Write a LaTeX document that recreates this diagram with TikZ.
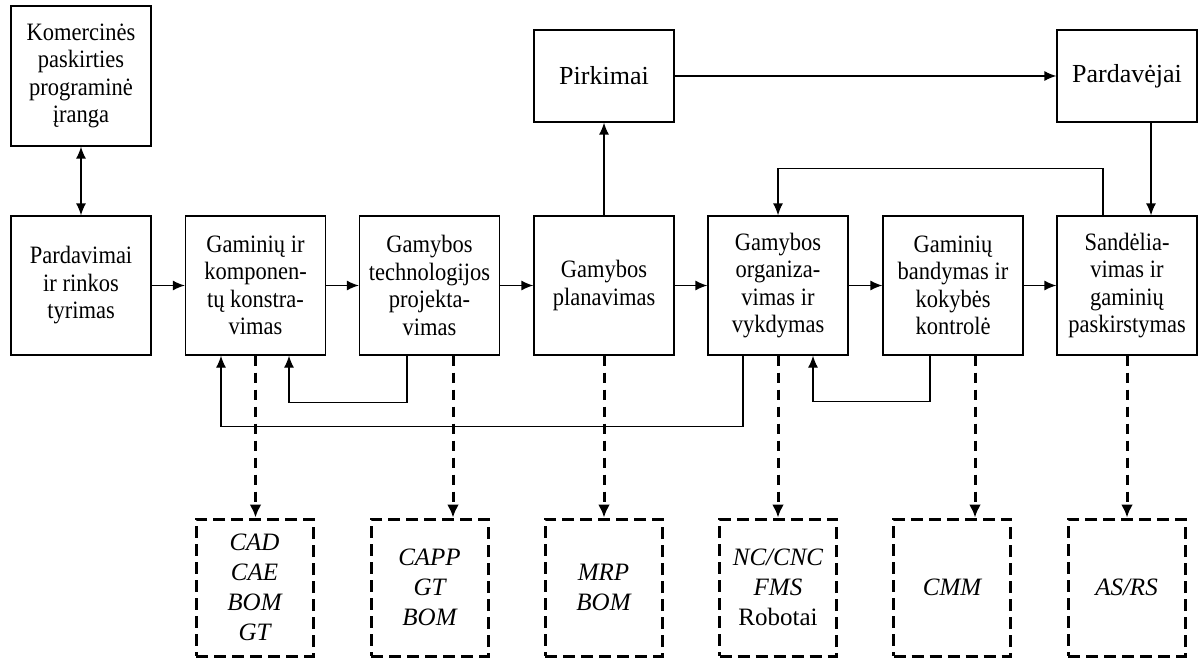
\documentclass[tikz,border=0pt]{standalone}
\usepackage{fontspec}
\setmainfont{Liberation Serif}
\newfontfamily\boxfont{Liberation Serif}[FakeStretch=0.9]
\usetikzlibrary{arrows.meta}
\begin{document}
\begin{tikzpicture}[x=1pt,y=-1pt,
  box/.style={draw, line width=1.3pt, minimum width=140pt, minimum height=139pt, inner sep=0pt, align=center, font=\boxfont\fontsize{25}{27.5}\selectfont},
  topbox/.style={draw, line width=1.3pt, minimum width=140pt, minimum height=92pt, inner sep=0pt, font=\fontsize{26}{30}\selectfont},
  dbox/.style={draw, line width=3pt, dash pattern=on 12pt off 6pt, minimum width=117pt, minimum height=137pt, inner sep=0pt, align=center, font=\fontsize{25}{30}\selectfont\itshape},
  arr/.style={line width=1.3pt, -{Latex[length=12pt,width=10pt]}},
  biarr/.style={line width=1.3pt, {Latex[length=12pt,width=10pt]}-{Latex[length=12pt,width=10pt]}},
  darr/.style={line width=3pt, dash pattern=on 10pt off 7pt, -{Latex[length=13pt,width=12pt]}}]
\useasboundingbox (0,0) rectangle (1202,658);
% top row
\node[box, minimum height=140pt] (kom) at (81,76) {Komercinės\\paskirties\\programinė\\įranga};
\node[topbox] (pirk) at (604,76) {Pirkimai};
\node[topbox] (pardv) at (1127,76) {Pardavėjai};
% main row
\node[box] (pard) at (81,285.5) {Pardavimai\\ir rinkos\\tyrimas};
\node[box] (gam) at (255.5,285.5) {Gaminių ir\\komponen-\\tų konstra-\\vimas};
\node[box] (tech) at (429.5,285.5) {Gamybos\\technologijos\\projekta-\\vimas};
\node[box] (plan) at (604,285.5) {Gamybos\\planavimas};
\node[box] (org) at (778,285.5) {Gamybos\\organiza-\\vimas ir\\vykdymas};
\node[box] (band) at (953,285.5) {Gaminių\\bandymas ir\\kokybės\\kontrolė};
\node[box] (sand) at (1127,285.5) {Sandėlia-\\vimas ir\\gaminių\\paskirstymas};
% dashed boxes
\node[dbox] (d1) at (254.5,587.5) {CAD\\CAE\\BOM\\GT};
\node[dbox] (d2) at (429.5,587.5) {CAPP\\GT\\BOM};
\node[dbox] (d3) at (603.5,587.5) {MRP\\BOM};
\node[dbox] (d4) at (778,587.5) {NC/CNC\\FMS\\\upshape Robotai};
\node[dbox] (d5) at (952,587.5) {CMM};
\node[dbox] (d6) at (1126.5,587.5) {AS/RS};
% connectors
\draw[biarr] (kom) -- (pard);
\draw[arr] (pard) -- (gam);
\draw[arr] (gam) -- (tech);
\draw[arr] (tech) -- (plan);
\draw[arr] (plan) -- (org);
\draw[arr] (org) -- (band);
\draw[arr] (band) -- (sand);
\draw[arr] (plan) -- (pirk);
\draw[arr] (pirk) -- (pardv);
\draw[arr] ([xshift=24pt]pardv.south) -- ([xshift=24pt]sand.north);
\draw[arr] ([xshift=-24pt]sand.north) -- ++(0,-47) -| (org.north);
\draw[arr] ([xshift=-22.5pt]tech.south) -- ++(0,47) -| ([xshift=33.5pt]gam.south);
\draw[arr] ([xshift=-35pt]org.south) -- ++(0,71) -| ([xshift=-34.5pt]gam.south);
\draw[arr] ([xshift=-23pt]band.south) -- ++(0,46) -| ([xshift=35pt]org.south);
% dashed connectors
\draw[darr] (gam.south) -- (gam.south |- d1.north);
\draw[darr] ([xshift=23.5pt]tech.south) -- ([xshift=23.5pt]tech.south |- d2.north);
\draw[darr] (plan.south) -- (plan.south |- d3.north);
\draw[darr] (org.south) -- (org.south |- d4.north);
\draw[darr] ([xshift=22pt]band.south) -- ([xshift=22pt]band.south |- d5.north);
\draw[darr] (sand.south) -- (sand.south |- d6.north);
\end{tikzpicture}
\end{document}
